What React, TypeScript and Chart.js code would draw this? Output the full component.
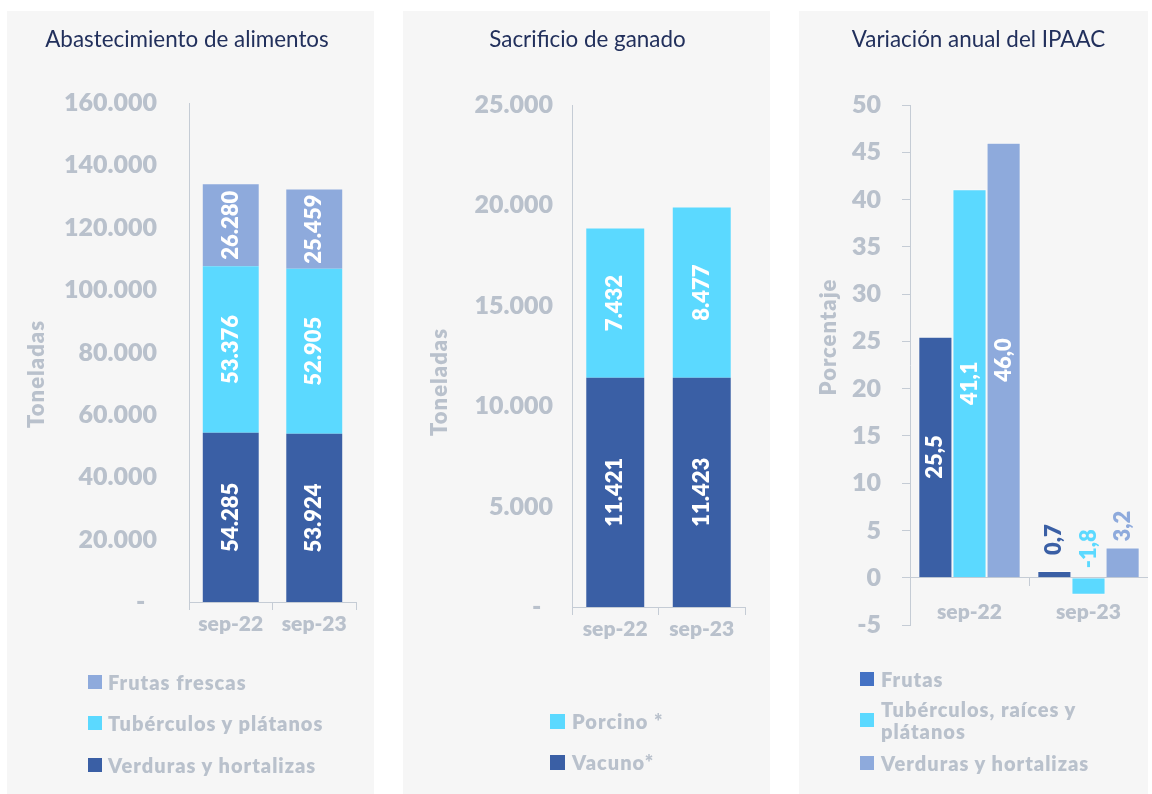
import { useEffect, useRef } from 'react';
import { Chart, registerables } from 'chart.js';

Chart.register(...registerables);

const FONT = 'Lato, "Open Sans", sans-serif';
const HEAVY = 800;

// Abastecimiento de alimentos (toneladas)
const periods = ['sep-22', 'sep-23'];
const verdurasTon = [54285, 53924];
const tuberculosTon = [53376, 52905];
const frutasTon = [26280, 25459];
// Sacrificio de ganado (toneladas)
const vacunoTon = [11421, 11423];
const porcinoTon = [7432, 8477];
// Variación anual del IPAAC (%)
const frutasVar = [25.5, 0.7];
const tuberculosVar = [41.1, -1.8];
const verdurasVar = [46.0, 3.2];

const DARK = '#3a5fa5';
const CYAN = '#5bd9ff';
const LIGHT = '#8eaadc';
const FRUTAS_LEGEND = '#4472c4';
const GREY = '#b9c1cc';
const AXIS = '#c5ccd5';
const TITLE = '#22305c';
const PANEL_BG = '#f6f6f6';

const fmtThousands = (v: number) =>
  Math.round(v).toString().replace(/\B(?=(\d{3})+(?!\d))/g, '.');
const fmtDecimal = (v: number) => v.toFixed(1).replace('.', ',');

const barLabelPlugin = {
  id: 'barLabels',
  afterDatasetsDraw(chart: any, _args: any, opts: any) {
    const { ctx } = chart;
    chart.data.datasets.forEach((ds: any, di: number) => {
      const meta = chart.getDatasetMeta(di);
      meta.data.forEach((bar: any, i: number) => {
        const v = ds.data[i];
        const { x, y, base } = bar.getProps(['x', 'y', 'base'], true);
        const text = opts.format(v);
        ctx.save();
        ctx.font = `${HEAVY} ${opts.size}px ${FONT}`;
        if (Math.abs(v) >= opts.insideMin) {
          ctx.translate(x, (y + base) / 2);
          ctx.rotate(-Math.PI / 2);
          ctx.textAlign = 'center';
          ctx.textBaseline = 'middle';
          ctx.fillStyle = '#ffffff';
        } else {
          const off = opts.offsets ? opts.offsets[di] : opts.offset;
          ctx.translate(x, Math.min(y, base) - off);
          ctx.rotate(-Math.PI / 2);
          ctx.textAlign = 'left';
          ctx.textBaseline = 'middle';
          ctx.fillStyle = ds.backgroundColor;
        }
        ctx.fillText(text, 0, 0);
        ctx.restore();
      });
    });
  },
};

const axisTitlePlugin = {
  id: 'axisTitle',
  afterDraw(chart: any, _args: any, opts: any) {
    const { ctx } = chart;
    ctx.save();
    ctx.translate(opts.x, opts.y);
    ctx.rotate(-Math.PI / 2);
    ctx.textAlign = 'center';
    ctx.textBaseline = 'middle';
    ctx.font = `${HEAVY} ${opts.size}px ${FONT}`;
    try {
      (ctx as any).letterSpacing = '1px';
    } catch (e) {
      /* ignore */
    }
    ctx.fillStyle = GREY;
    ctx.fillText(opts.text, 0, 0);
    ctx.restore();
  },
};

const tickFont = (size: number) => ({ family: FONT, size, weight: HEAVY as any });
const barStyle = {
  barPercentage: 0.67,
  categoryPercentage: 1,
  borderWidth: 0,
};

function config1(): any {
  return {
    type: 'bar',
    data: {
      labels: periods,
      datasets: [
        { label: 'Verduras y hortalizas', data: verdurasTon, backgroundColor: DARK, ...barStyle },
        { label: 'Tubérculos y plátanos', data: tuberculosTon, backgroundColor: CYAN, ...barStyle },
        { label: 'Frutas frescas', data: frutasTon, backgroundColor: LIGHT, ...barStyle },
      ],
    },
    options: {
      responsive: false,
      animation: false,
      layout: { padding: { left: 0, top: 92, right: 18, bottom: 152 } },
      scales: {
        x: {
          stacked: true,
          grid: { display: true, drawOnChartArea: false, drawTicks: true, tickLength: 8, color: AXIS, offset: true },
          border: { display: true, color: AXIS },
          ticks: { color: GREY, font: tickFont(21), padding: 2 },
          afterFit: (s: any) => { s.height = 40; },
        },
        y: {
          stacked: true,
          min: 0,
          max: 160000,
          grid: { display: false, drawTicks: false },
          border: { display: true, color: AXIS },
          ticks: {
            stepSize: 20000,
            color: GREY,
            font: tickFont(25),
            padding: 32,
            callback: (v: any) => (v === 0 ? '-  ' : fmtThousands(v)),
          },
          afterFit: (s: any) => { s.width = 182; },
        },
      },
      plugins: {
        legend: { display: false },
        tooltip: { enabled: false },
        barLabels: { format: fmtThousands, size: 22, insideMin: 0, offset: 8 },
        axisTitle: { text: 'Toneladas', x: 30, y: 363, size: 22 },
      },
    },
    plugins: [barLabelPlugin, axisTitlePlugin],
  };
}

function config2(): any {
  return {
    type: 'bar',
    data: {
      labels: periods,
      datasets: [
        { label: 'Vacuno*', data: vacunoTon, backgroundColor: DARK, ...barStyle },
        { label: 'Porcino *', data: porcinoTon, backgroundColor: CYAN, ...barStyle },
      ],
    },
    options: {
      responsive: false,
      animation: false,
      layout: { padding: { left: 0, top: 94, right: 25, bottom: 147 } },
      scales: {
        x: {
          stacked: true,
          grid: { display: true, drawOnChartArea: false, drawTicks: true, tickLength: 8, color: AXIS, offset: true },
          border: { display: true, color: AXIS },
          ticks: { color: GREY, font: tickFont(21), padding: 2 },
          afterFit: (s: any) => { s.height = 40; },
        },
        y: {
          stacked: true,
          min: 0,
          max: 25000,
          grid: { display: false, drawTicks: false },
          border: { display: true, color: AXIS },
          ticks: {
            stepSize: 5000,
            color: GREY,
            font: tickFont(25),
            padding: 19,
            callback: (v: any) => (v === 0 ? '-  ' : fmtThousands(v)),
          },
          afterFit: (s: any) => { s.width = 169; },
        },
      },
      plugins: {
        legend: { display: false },
        tooltip: { enabled: false },
        barLabels: { format: fmtThousands, size: 22, insideMin: 0, offset: 8 },
        axisTitle: { text: 'Toneladas', x: 37, y: 371, size: 22 },
      },
    },
    plugins: [barLabelPlugin, axisTitlePlugin],
  };
}

function config3(): any {
  const st = { barPercentage: 1, categoryPercentage: 0.86, borderWidth: 1, borderColor: 'rgba(255,255,255,0.45)' };
  return {
    type: 'bar',
    data: {
      labels: periods,
      datasets: [
        { label: 'Frutas', data: frutasVar, backgroundColor: DARK, ...st },
        { label: 'Tubérculos, raíces y plátanos', data: tuberculosVar, backgroundColor: CYAN, ...st },
        { label: 'Verduras y hortalizas', data: verdurasVar, backgroundColor: LIGHT, ...st },
      ],
    },
    options: {
      responsive: false,
      animation: false,
      layout: { padding: { left: 0, top: 94, right: 0, bottom: 169 } },
      scales: {
        x: {
          position: { y: 0 },
          grid: { display: true, drawOnChartArea: false, drawTicks: true, tickLength: 8, color: AXIS, offset: true },
          border: { display: true, color: AXIS },
          ticks: { color: GREY, font: tickFont(21), padding: 14 },
        },
        y: {
          min: -5,
          max: 50,
          grid: { display: true, drawOnChartArea: false, drawTicks: true, tickLength: 8, color: AXIS },
          border: { display: true, color: AXIS },
          ticks: { stepSize: 5, color: GREY, font: tickFont(25), padding: 21 },
          afterFit: (s: any) => { s.width = 111; },
        },
      },
      plugins: {
        legend: { display: false },
        tooltip: { enabled: false },
        barLabels: { format: fmtDecimal, size: 22, insideMin: 10, offsets: [16, 10, 6] },
        axisTitle: { text: 'Porcentaje', x: 30, y: 326, size: 22 },
      },
    },
    plugins: [barLabelPlugin, axisTitlePlugin],
  };
}

type LegendItem = { color: string; lines: string[]; cy: number };

function Panel(props: {
  left: number;
  width: number;
  title: string;
  titleCx: number;
  makeConfig: () => any;
  legendLeft: number;
  box: number;
  gap: number;
  legend: LegendItem[];
}) {
  const ref = useRef<HTMLCanvasElement | null>(null);
  useEffect(() => {
    const chart = new Chart(ref.current as HTMLCanvasElement, props.makeConfig());
    return () => chart.destroy();
  }, []);
  return (
    <div
      style={{
        position: 'absolute',
        left: props.left,
        top: 11,
        width: props.width,
        height: 783,
        background: PANEL_BG,
      }}
    >
      <canvas
        ref={ref}
        width={props.width}
        height={783}
        style={{ position: 'absolute', left: 0, top: 0, display: 'block' }}
      />
      <div
        style={{
          position: 'absolute',
          left: props.titleCx,
          top: 27,
          transform: 'translate(-50%, -50%)',
          whiteSpace: 'nowrap',
          fontFamily: FONT,
          fontSize: 22.4,
          color: TITLE,
        }}
      >
        {props.title}
      </div>
      {props.legend.map((it, k) => (
        <div
          key={k}
          style={{
            position: 'absolute',
            left: props.legendLeft,
            top: it.cy,
            transform: 'translateY(-50%)',
            display: 'flex',
            alignItems: 'center',
            whiteSpace: 'nowrap',
          }}
        >
          <div
            style={{
              width: props.box,
              height: props.box,
              background: it.color,
              marginRight: props.gap,
              flex: 'none',
            }}
          />
          <div
            style={{
              fontFamily: FONT,
              fontWeight: HEAVY,
              fontSize: 20,
              letterSpacing: 1,
              lineHeight: '22px',
              color: GREY,
            }}
          >
            {it.lines.map((l, j) => (
              <div key={j}>{l}</div>
            ))}
          </div>
        </div>
      ))}
    </div>
  );
}

export default function App() {
  return (
    <div
      style={{
        position: 'absolute',
        left: 0,
        top: 0,
        width: 1152,
        height: 794,
        background: '#ffffff',
        overflow: 'hidden',
      }}
    >
      <Panel
        left={7}
        width={367}
        title="Abastecimiento de alimentos"
        titleCx={180}
        makeConfig={config1}
        legendLeft={81}
        box={14}
        gap={6}
        legend={[
          { color: LIGHT, lines: ['Frutas frescas'], cy: 671 },
          { color: CYAN, lines: ['Tubérculos y plátanos'], cy: 712 },
          { color: DARK, lines: ['Verduras y hortalizas'], cy: 754 },
        ]}
      />
      <Panel
        left={403}
        width={367}
        title="Sacrificio de ganado"
        titleCx={184.5}
        makeConfig={config2}
        legendLeft={147}
        box={15}
        gap={7}
        legend={[
          { color: CYAN, lines: ['Porcino *'], cy: 710 },
          { color: DARK, lines: ['Vacuno*'], cy: 751 },
        ]}
      />
      <Panel
        left={799}
        width={349}
        title="Variación anual del IPAAC"
        titleCx={179.5}
        makeConfig={config3}
        legendLeft={61}
        box={14}
        gap={7}
        legend={[
          { color: FRUTAS_LEGEND, lines: ['Frutas'], cy: 668 },
          { color: CYAN, lines: ['Tubérculos, raíces y', 'plátanos'], cy: 709 },
          { color: LIGHT, lines: ['Verduras y hortalizas'], cy: 752 },
        ]}
      />
    </div>
  );
}
